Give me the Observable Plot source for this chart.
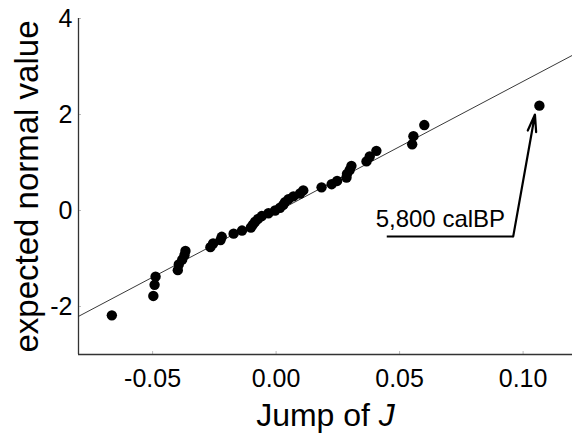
<!DOCTYPE html>
<html><head><meta charset="utf-8">
<script src="https://cdn.jsdelivr.net/npm/d3@7"></script>
<script src="https://cdn.jsdelivr.net/npm/@observablehq/plot@0.6"></script>
<style>
html,body{margin:0;padding:0;background:#fff;}
#chart svg{display:block;font-family:Arial,"Liberation Sans",sans-serif;}
</style></head><body><div id="chart"></div>
<script>
// Jump of J (sorted) and the expected normal value for each rank
const jumpJ = [-0.0665,-0.0497,-0.0492,-0.0488,-0.0398,-0.0394,-0.0380,-0.0371,-0.0367,
  -0.0266,-0.0255,-0.0225,-0.0220,-0.0172,-0.0138,-0.0102,-0.0094,-0.0085,-0.0073,-0.0058,
  -0.0031,-0.0004,0.0016,0.0029,0.0036,0.0050,0.0070,0.0097,0.0110,0.0184,0.0225,0.0247,
  0.0285,0.0287,0.0298,0.0305,0.0366,0.0379,0.0406,0.0551,0.0556,0.0600,0.1066];
const expectedNormal = [-2.184,-1.780,-1.549,-1.379,-1.243,-1.126,-1.023,-0.930,-0.844,
  -0.764,-0.688,-0.616,-0.548,-0.482,-0.418,-0.355,-0.294,-0.234,-0.175,-0.116,-0.058,0,
  0.058,0.116,0.175,0.234,0.294,0.355,0.418,0.482,0.548,0.616,0.688,0.764,0.844,0.930,
  1.023,1.126,1.243,1.379,1.549,1.780,2.184];
const xTicks = [-0.05, 0, 0.05, 0.10];
const xTickLabels = ["-0.05", "0.00", "0.05", "0.10"];
const yTicks = [-2, 0, 2, 4];
const yTickLabels = ["-2", "0", "2", "4"];
const xDomain = [-0.08, 0.12];
const yDomain = [-3, 4];
const fit = {slope: 27.2, intercept: -0.03};
const annotationLabel = "5,800 calBP";
const annotation = {tipX: 0.1048, tipY: 2.0, cornerX: 0.096, cornerY: -0.54, startX: 0.0448, textX: 0.0665, textY: -0.19};
const xLabel = "Jump of J";
const yLabel = "expected normal value";

const points = jumpJ.map((x, i) => ({x, y: expectedNormal[i]}));

const W = 572, H = 435, mL = 78, mR = 0, mT = 18, mB = 81;
const innerW = W - mL - mR, innerH = H - mT - mB;

const chart = Plot.plot({
  width: W, height: H,
  marginLeft: mL, marginRight: mR, marginTop: mT, marginBottom: mB,
  x: {domain: xDomain},
  y: {domain: yDomain},
  style: {fontFamily: 'Arial, "Liberation Sans", sans-serif', color: "#000", background: "#fff"},
  marks: [
    Plot.tickX(xTicks, {x: d => d, insetTop: innerH - 3, stroke: "#bbb"}),
    Plot.tickY(yTicks, {y: d => d, insetRight: innerW - 3, stroke: "#bbb"}),
    Plot.axisX(xTicks, {tickSize: 0, tickPadding: 15, fontSize: 25, label: null,
      tickFormat: d => xTickLabels[xTicks.indexOf(d)]}),
    Plot.axisY(yTicks, {tickSize: 0, tickPadding: 6, fontSize: 25, label: null,
      tickFormat: d => yTickLabels[yTicks.indexOf(d)]}),
    Plot.ruleX([xDomain[0]], {stroke: "#333", strokeWidth: 1.3}),
    Plot.ruleY([yDomain[0]], {stroke: "#333", strokeWidth: 1.3}),
    Plot.link([fit], {
      x1: () => xDomain[0], y1: f => f.slope * xDomain[0] + f.intercept,
      x2: () => xDomain[1], y2: f => f.slope * xDomain[1] + f.intercept,
      stroke: "#222", strokeWidth: 0.9, clip: true}),
    Plot.dot(points, {x: "x", y: "y", r: 5.2, fill: "#000", stroke: "none"}),
    Plot.link([annotation], {x1: "startX", y1: "cornerY", x2: "cornerX", y2: "cornerY", stroke: "#000", strokeWidth: 2}),
    Plot.arrow([annotation], {x1: "cornerX", y1: "cornerY", x2: "tipX", y2: "tipY", stroke: "#000", strokeWidth: 2.2, headLength: 12, headAngle: 28}),
    Plot.text([annotation], {x: "textX", y: "textY", text: () => annotationLabel, fontSize: 24, textAnchor: "middle", fill: "#000"}),
    Plot.text([xLabel], {frameAnchor: "bottom", lineAnchor: "top", textAnchor: "middle", dy: 49, fontSize: 32, fill: "#000", className: "xlab"}),
    Plot.text([yLabel], {frameAnchor: "left", textAnchor: "middle", rotate: -90, dx: -51, fontSize: 33, fill: "#000"})
  ]
});
document.getElementById("chart").appendChild(chart);

// italicise the J in the x-axis label
const t = chart.querySelector(".xlab text");
if (t) {
  const s = t.textContent;
  const k = s.lastIndexOf("J");
  t.textContent = "";
  const ns = "http://www.w3.org/2000/svg";
  const a = document.createElementNS(ns, "tspan"); a.textContent = s.slice(0, k);
  const b = document.createElementNS(ns, "tspan"); b.textContent = s.slice(k); b.setAttribute("font-style", "italic");
  t.appendChild(a); t.appendChild(b);
}
</script></body></html>
